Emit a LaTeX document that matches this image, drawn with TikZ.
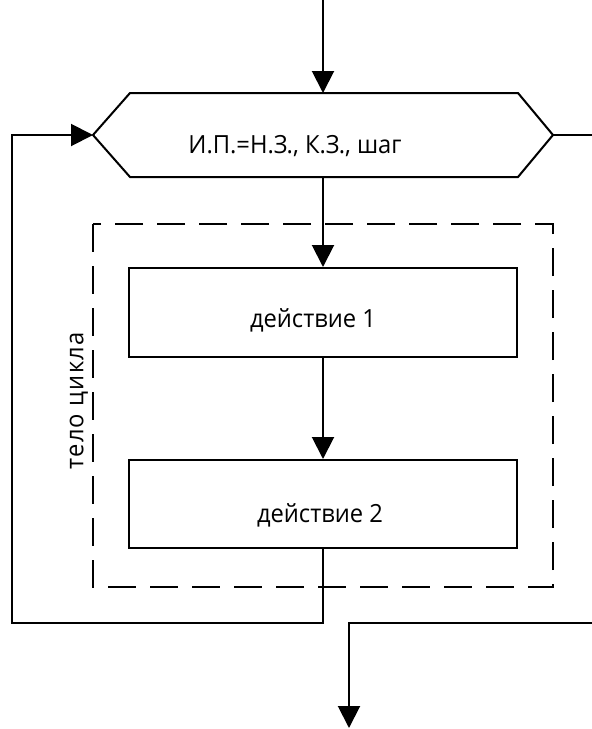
\documentclass[tikz,border=0pt]{standalone}
\usepackage{fontspec}
\setmainfont{Open Sans}[FakeStretch=0.95]
\usetikzlibrary{arrows.meta,calc}
\begin{document}
\begin{tikzpicture}[x=1pt,y=-1pt, line width=2pt,
  conn/.style={-{Triangle[length=22pt,width=22pt]}, line width=2pt},
  plain/.style={line width=2pt},
  box/.style={draw, minimum width=388pt, minimum height=89pt, inner sep=0pt, line width=2pt},
  lbl/.style={font=\fontsize{25}{28}\selectfont, inner sep=0pt},
  frame/.style={line width=1.2pt, dash pattern=on 28pt off 14pt}]
\useasboundingbox (0,0) rectangle (592,729);
% hexagon
\coordinate (hL) at (93,135);
\coordinate (hTL) at (130,93);
\coordinate (hT) at (323,93);
\coordinate (hTR) at (518,93);
\coordinate (hR) at (553,135);
\coordinate (hBR) at (518,177);
\coordinate (hB) at (323,177);
\coordinate (hBL) at (130,177);
\draw[plain] (hL) -- (hTL) -- (hTR) -- (hR) -- (hBR) -- (hBL) -- cycle;
\node[lbl] (thex) at (295,146) {И.П.=Н.З., К.З., шаг};
% boxes
\node[box] (b1) at (323,312.5) {};
\node[lbl] (t1) at (313,320) {действие 1};
\node[box, minimum height=88pt] (b2) at (323,504) {};
\node[lbl] (t2) at (320,515) {действие 2};
% dashed frame
\draw[frame] (93,224) rectangle (553,587);
\node[lbl, rotate=90, font=\fontsize{25}{28}\selectfont\addfontfeature{LetterSpace=5}] (tb) at (79,401) {тело цикла};
% connectors
\coordinate (top) at (323,0);
\draw[conn] (top) -- (hT);
\draw[conn] (hB) -- (b1.north);
\draw[conn] (b1.south) -- (b2.north);
\coordinate (l1) at (323,623);
\coordinate (l2) at (12,623);
\coordinate (l3) at (12,135);
\draw[conn] (b2.south) -- (l1) -- (l2) -- (l3) -- (hL);
\coordinate (rEnd) at (592,135);
\draw[plain] (hR) -- (rEnd);
\coordinate (e1) at (592,623);
\coordinate (e2) at (349,623);
\coordinate (e3) at (349,728);
\draw[conn] (e1) -- (e2) -- (e3);
\end{tikzpicture}
\end{document}
